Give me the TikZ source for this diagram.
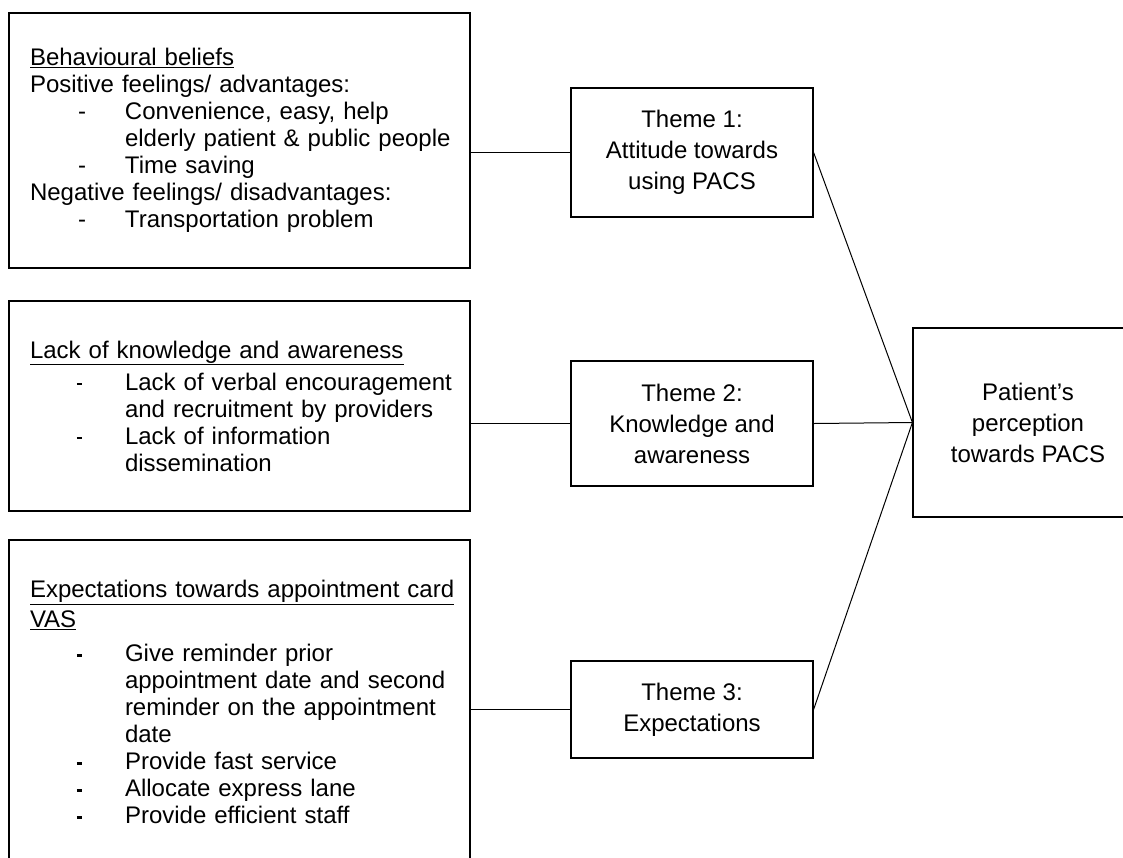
\documentclass[tikz,border=0pt]{standalone}
\usepackage{fontspec}
\setmainfont{Liberation Sans}
\usepackage{tikz}
\usetikzlibrary{positioning}
\tikzstyle{leftbox} = [draw,line width=1.2pt,text width=419pt,inner xsep=21pt,align=left,font=\fontsize{24}{27}\selectfont]
\tikzstyle{themebox} = [draw,line width=1.2pt,minimum width=242pt,align=center,font=\fontsize{24}{31}\selectfont]
\tikzstyle{link} = [line width=1pt]
% list markers (one line each, never broken)
\newcommand{\dashitem}[1]{\hspace*{48pt}\makebox[47pt][l]{-}\mbox{#1}}
\newcommand{\baritem}[1]{\hspace*{47pt}\makebox[48pt][l]{\raisebox{5pt}{\rule{4.5pt}{2.5pt}}}\mbox{#1}}
\newcommand{\contitem}[1]{\hspace*{95pt}\mbox{#1}}

\begin{document}
\begin{tikzpicture}[x=1pt,y=-1pt]
	\useasboundingbox (0,0) rectangle (1123,857);
	\clip (0,0) rectangle (1123,857);
	
	% Left column: what the patients said
	\node[leftbox,minimum height=255pt] (beliefs) at (239.5,140.5) {\underline{Behavioural beliefs}\\
		Positive feelings/ advantages:\\
		\dashitem{Convenience, easy, help}\\
		\contitem{elderly patient \& public people}\\
		\dashitem{Time saving}\\
		Negative feelings/ disadvantages:\\
		\dashitem{Transportation problem}};
	\node[leftbox,minimum height=210pt] (lack) at (239.5,406) {\underline{Lack of knowledge and awareness}\\[5pt]
		\baritem{Lack of verbal encouragement}\\
		\contitem{and recruitment by providers}\\
		\baritem{Lack of information}\\
		\contitem{dissemination}};
	\node[leftbox,minimum height=324pt] (expect) at (239.5,702) {\mbox{\underline{Expectations towards appointment card}}\\[3pt]
		\underline{VAS}\\[7pt]
		\baritem{Give reminder prior}\\
		\contitem{appointment date and second}\\
		\contitem{reminder on the appointment}\\
		\contitem{date}\\
		\baritem{Provide fast service}\\
		\baritem{Allocate express lane}\\
		\baritem{Provide efficient staff}};
	
	% Middle column: themes
	\node[themebox,minimum height=129pt] (theme1) at (692,152.5) {Theme 1:\\ Attitude towards\\ using PACS};
	\node[themebox,minimum height=125pt] (theme2) at (692,423.5) {Theme 2:\\ Knowledge and\\ awareness};
	\node[themebox,minimum height=97pt] (theme3) at (692,709.5) {Theme 3:\\ Expectations};
	
	% Right: outcome
	\node[themebox,minimum width=230pt,minimum height=189pt] (percept) at (1028,422.5) {Patient’s\\ perception\\ towards PACS};
	
	% Links
	\draw[link] (theme1.west -| beliefs.east) -- (theme1.west);
	\draw[link] (theme2.west -| lack.east) -- (theme2.west);
	\draw[link] (theme3.west -| expect.east) -- (theme3.west);
	\draw[link] (theme1.east) -- (percept.west);
	\draw[link] (theme2.east) -- (percept.west);
	\draw[link] (theme3.east) -- (percept.west);
	
\end{tikzpicture}
\end{document}
